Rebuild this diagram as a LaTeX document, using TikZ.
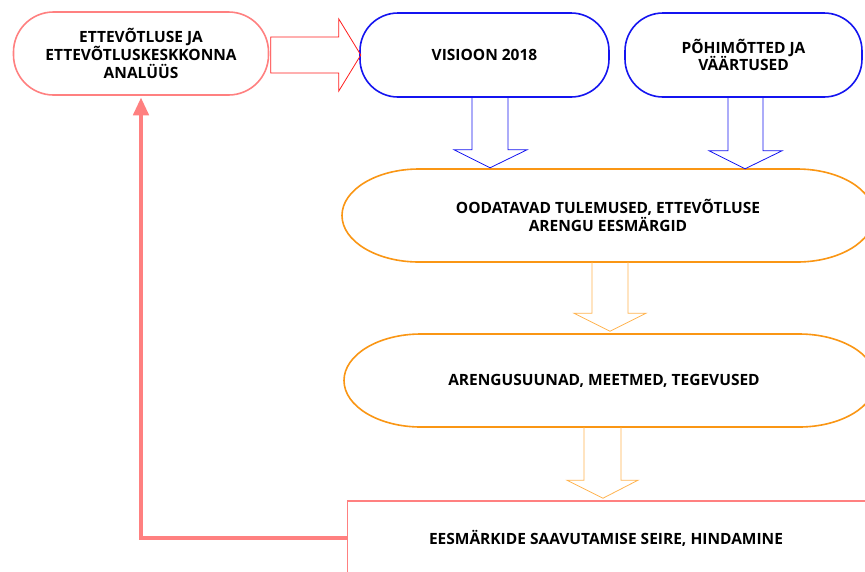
\documentclass[tikz,border=0pt]{standalone}
\usepackage{fontspec}
\setmainfont{Open Sans}
\usetikzlibrary{arrows.meta,calc}
\definecolor{salmon}{RGB}{255,128,128}
\definecolor{redline}{RGB}{255,30,30}
\definecolor{blueline}{RGB}{20,20,240}
\definecolor{orangeline}{RGB}{250,150,20}
\definecolor{orangearr}{RGB}{255,180,80}
\tikzset{
  lbl/.style={font=\fontsize{15.5}{17.8}\selectfont\bfseries, align=center, text=black},
  pinkbox/.style={draw=salmon, line width=1.6pt, rounded corners=40pt, minimum width=255pt, minimum height=83pt, lbl},
  bluebox/.style={draw=blueline, line width=1.6pt, rounded corners=38pt, minimum height=84pt, lbl},
  ovalline/.style={draw=orangeline, line width=1.6pt},
  redarr/.style={draw=redline, line width=0.8pt, line join=miter},
  bluearr/.style={draw=blueline, line width=0.8pt, line join=miter},
  orarr/.style={draw=orangearr, line width=0.8pt, line join=miter},
  feedback/.style={draw=salmon, line width=4.5pt, -{Triangle[length=18pt,width=15pt]}, shorten >=1.5pt},
}
\begin{document}
\begin{tikzpicture}[x=1pt,y=-1pt]
\useasboundingbox (0,0) rectangle (865,571);
\fill[white] (0,0) rectangle (865,571);
\clip (0,0) rectangle (865,571);

% top boxes
\node[pinkbox] (analuus) at (141,53.5) {ETTEVÕTLUSE JA\\ETTEVÕTLUSKESKKONNA\\ANALÜÜS};
\node[bluebox, minimum width=249pt] (visioon) at (484.5,55) {VISIOON 2018};
\node[bluebox, minimum width=237pt] (pohi) at (743.5,55) {PÕHIMÕTTED JA\\VÄÄRTUSED};

% orange oval shapes
\draw[ovalline] (419,169) -- (797,169) .. controls (839.5,169) and (874,189.8) .. (874,215.5)
  .. controls (874,241.2) and (839.5,262) .. (797,262) -- (419,262)
  .. controls (376.5,262) and (342,241.2) .. (342,215.5)
  .. controls (342,189.8) and (376.5,169) .. (419,169) -- cycle;
\node[lbl, minimum height=93pt, baseline] (tulemused) at (608,215.5)
  {\fontsize{15.5}{18.2}\selectfont OODATAVAD TULEMUSED, ETTEVÕTLUSE\\ARENGU EESMÄRGID};

\draw[ovalline] (421,334) -- (799,334) .. controls (841.5,334) and (876,354.8) .. (876,380.5)
  .. controls (876,406.2) and (841.5,427) .. (799,427) -- (421,427)
  .. controls (378.5,427) and (344,406.2) .. (344,380.5)
  .. controls (344,354.8) and (378.5,334) .. (421,334) -- cycle;
\node[lbl, minimum height=93pt] (arengu) at (604,380.5) {ARENGUSUUNAD, MEETMED, TEGEVUSED};

% bottom box
\node[draw=salmon, line width=1.3pt, anchor=west, minimum width=600pt, minimum height=74pt] (seirebox) at (347,538) {};
\node[lbl] (seire) at (606,538) {EESMÄRKIDE SAAVUTAMISE SEIRE, HINDAMINE};

% block arrows
\draw[redarr] (analuus.east) ++(1.5,-16.5) -- ++(68,0) -- ++(0,-18) -- ++(22,36) -- ++(-22,36) -- ++(0,-18) -- ++(-68,0) -- cycle;
\draw[bluearr] (visioon.south) ++(-12.5,0) -- ++(0,52) -- ++(-18,0) -- ++(36,18) -- ++(37,-18) -- ++(-19,0) -- ++(0,-52);
\draw[bluearr] (pohi.south) ++(-15.5,0) -- ++(0,53) -- ++(-19,0) -- ++(36,18) -- ++(37,-18) -- ++(-19,0) -- ++(0,-53);
\draw[orarr] (tulemused.south) ++(-16,0) -- ++(0,51) -- ++(-18,0) -- ++(36,18) -- ++(36,-18) -- ++(-18,0) -- ++(0,-51);
\draw[orarr] (arengu.south) ++(-20,0) -- ++(0,53) -- ++(-17,0) -- ++(36,18) -- ++(35,-18) -- ++(-17,0) -- ++(0,-53);

% feedback
\draw[feedback] (seirebox.west) -| (analuus.south);
\end{tikzpicture}
\end{document}
